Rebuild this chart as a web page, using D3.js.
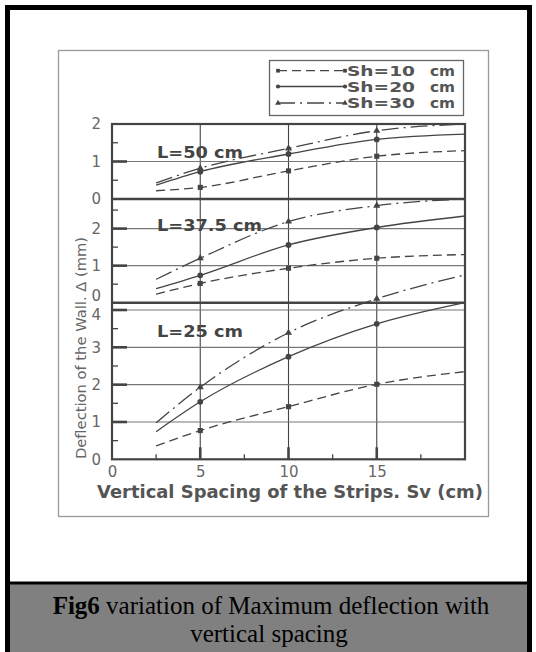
<!DOCTYPE html>
<html>
<head>
<meta charset="utf-8">
<script src="https://d3js.org/d3.v7.min.js"></script>
<style>
body { margin: 0; background: #fff; }
text { font-family: "DejaVu Sans", Verdana, sans-serif; }
</style>
</head>
<body>
<script>
// values (deflection in mm)
var sv = [2.5, 5, 10, 15, 20];
var markerSv = [5, 10, 15];
var seriesNames = ["Sh=10", "Sh=20", "Sh=30"];
var panelNames = ["L=50 cm", "L=37.5 cm", "L=25 cm"];

var L50_sh10 = [0.22, 0.31, 0.75, 1.14, 1.29];
var L50_sh20 = [0.37, 0.73, 1.20, 1.59, 1.73];
var L50_sh30 = [0.43, 0.82, 1.35, 1.82, 2.00];

var L375_sh10 = [0.23, 0.52, 0.93, 1.20, 1.30];
var L375_sh20 = [0.38, 0.74, 1.56, 2.03, 2.34];
var L375_sh30 = [0.63, 1.20, 2.19, 2.62, 2.80];

var L25_sh10 = [0.36, 0.77, 1.41, 2.01, 2.35];
var L25_sh20 = [0.74, 1.54, 2.75, 3.63, 4.20];
var L25_sh30 = [0.98, 1.93, 3.39, 4.30, 4.94];

var xTicks = [0, 5, 10, 15];
var yTicks50 = [0, 1, 2];
var yTicks375 = [0, 1, 2];
var yTicks25 = [0, 1, 2, 3, 4];

var width = 536, height = 652;
var plot = {left: 112, right: 465, top: 124, bottom: 459.3};
var ink = "#444", txt = "#555";

var svg = d3.select("body").append("svg").attr("width", width).attr("height", height);

// page frame + caption
svg.append("rect").attr("x", 0).attr("y", 0).attr("width", width).attr("height", height).attr("fill", "#fff");
svg.append("rect").attr("x", 5).attr("y", 584).attr("width", 527).attr("height", 68).attr("fill", "#808080");
svg.append("rect").attr("x", 7.5).attr("y", 7.5).attr("width", 522).attr("height", 700)
    .attr("fill", "none").attr("stroke", "#000").attr("stroke-width", 5);
svg.append("line").attr("x1", 5).attr("x2", 532).attr("y1", 583).attr("y2", 583)
    .attr("stroke", "#000").attr("stroke-width", 3);

var cap = svg.append("text").attr("x", 271).attr("y", 614).attr("text-anchor", "middle")
    .style("font-family", "'Liberation Serif', 'Times New Roman', serif").style("font-size", "25px").attr("fill", "#000");
cap.append("tspan").attr("font-weight", "bold").text("Fig6");
cap.append("tspan").text(" variation of Maximum deflection with");
svg.append("text").attr("x", 269).attr("y", 642).attr("text-anchor", "middle")
    .style("font-family", "'Liberation Serif', 'Times New Roman', serif").style("font-size", "25px").attr("fill", "#000")
    .text("vertical spacing");

// outer chart box
svg.append("rect").attr("x", 58.5).attr("y", 50.5).attr("width", 430).attr("height", 466)
    .attr("fill", "none").attr("stroke", "#999").attr("stroke-width", 1.3);

// scales
var x = d3.scaleLinear().domain([0, 20]).range([plot.left, plot.right]);

var panels = [
  {name: panelNames[0], series: [L50_sh10, L50_sh20, L50_sh30], ticks: yTicks50,
   y: d3.scaleLinear().domain([0, 2]).range([199, plot.top]), top: 2, labelY: 158},
  {name: panelNames[1], series: [L375_sh10, L375_sh20, L375_sh30], ticks: yTicks375,
   y: d3.scaleLinear().domain([0, 2]).range([302.7, 228.6]), top: 2.8, labelY: 231},
  {name: panelNames[2], series: [L25_sh10, L25_sh20, L25_sh30], ticks: yTicks25,
   y: d3.scaleLinear().domain([0, 4]).range([plot.bottom, 310]), top: 4.18, labelY: 337}
];

var dashes = ["9,5", null, "17,5,2,5"];
var symbols = [d3.symbolSquare, d3.symbolCircle, d3.symbolTriangle];
var symSizes = [26, 26, 22];

var g = svg.append("g");

// vertical grid
g.selectAll(".vgrid").data(markerSv).enter().append("line")
    .attr("x1", function(d) { return x(d); }).attr("x2", function(d) { return x(d); })
    .attr("y1", plot.top).attr("y2", plot.bottom)
    .attr("stroke", ink).attr("stroke-width", 1.1);

panels.forEach(function(p, pi) {
  var inner = p.ticks.filter(function(t) { return t > 0 && t < p.top - 0.01; });
  // horizontal grid lines
  g.selectAll(".hg" + pi).data(inner).enter().append("line")
      .attr("x1", plot.left).attr("x2", plot.right)
      .attr("y1", function(d) { return p.y(d); }).attr("y2", function(d) { return p.y(d); })
      .attr("stroke", "#777").attr("stroke-width", 1.1);
  // thick major ticks
  g.selectAll(".mt" + pi).data(inner).enter().append("line")
      .attr("x1", plot.left).attr("x2", plot.left + 15)
      .attr("y1", function(d) { return p.y(d); }).attr("y2", function(d) { return p.y(d); })
      .attr("stroke", ink).attr("stroke-width", 2.6);
  // minor ticks
  var minor = d3.range(0.5, p.top, 1);
  g.selectAll(".mn" + pi).data(minor).enter().append("line")
      .attr("x1", plot.left).attr("x2", plot.left + 6)
      .attr("y1", function(d) { return p.y(d); }).attr("y2", function(d) { return p.y(d); })
      .attr("stroke", ink).attr("stroke-width", 1.3);

  // tick labels
  var ax = g.append("g").attr("transform", "translate(" + plot.left + ",0)")
      .call(d3.axisLeft(p.y).tickValues(p.ticks).tickSize(0).tickPadding(11).tickFormat(d3.format("d")));
  ax.select(".domain").remove();
  ax.selectAll("text").style("font-size", "15px").attr("fill", "#666");
  if (pi === 1) ax.selectAll("text").filter(function(d) { return d === 0; }).attr("dy", "-0.15em");
  if (pi === 2) ax.selectAll("text").filter(function(d) { return d === 4; }).attr("dy", "0.6em");

  // curves
  p.series.forEach(function(vals, si) {
    var pts = d3.zip(sv, vals);
    var line = d3.line()
        .x(function(d) { return x(d[0]); })
        .y(function(d) { return p.y(d[1]); })
        .curve(d3.curveMonotoneX);
    g.append("path").attr("d", line(pts))
        .attr("fill", "none").attr("stroke", ink).attr("stroke-width", 1.3)
        .attr("stroke-dasharray", dashes[si]);
    g.selectAll(".m" + pi + si).data(pts.filter(function(d) { return markerSv.indexOf(d[0]) >= 0; }))
        .enter().append("path")
        .attr("d", d3.symbol().type(symbols[si]).size(symSizes[si]))
        .attr("transform", function(d) { return "translate(" + x(d[0]) + "," + p.y(d[1]) + ")"; })
        .attr("fill", ink);
  });

  // panel label
  g.append("text").attr("x", 157).attr("y", p.labelY)
      .attr("textLength", pi === 1 ? 105 : 86).attr("lengthAdjust", "spacingAndGlyphs")
      .style("font-size", "15px").style("font-weight", "bold").attr("fill", ink)
      .text(p.name);
});

// panel separators and frame
g.selectAll(".sep").data([199, 302.7]).enter().append("line")
    .attr("x1", plot.left).attr("x2", plot.right)
    .attr("y1", function(d) { return d; }).attr("y2", function(d) { return d; })
    .attr("stroke", ink).attr("stroke-width", 2.6);
g.append("rect").attr("x", plot.left).attr("y", plot.top)
    .attr("width", plot.right - plot.left).attr("height", plot.bottom - plot.top)
    .attr("fill", "none").attr("stroke", ink).attr("stroke-width", 2.2);

// bottom ticks
g.selectAll(".bt").data(markerSv).enter().append("line")
    .attr("x1", function(d) { return x(d); }).attr("x2", function(d) { return x(d); })
    .attr("y1", plot.bottom).attr("y2", plot.bottom - 12)
    .attr("stroke", ink).attr("stroke-width", 2.6);
g.selectAll(".bm").data([2.5, 7.5, 12.5, 17.5]).enter().append("line")
    .attr("x1", function(d) { return x(d); }).attr("x2", function(d) { return x(d); })
    .attr("y1", plot.bottom).attr("y2", plot.bottom - 5)
    .attr("stroke", ink).attr("stroke-width", 1.3);

var xa = g.append("g").attr("transform", "translate(0," + plot.bottom + ")")
    .call(d3.axisBottom(x).tickValues(xTicks).tickSize(0).tickPadding(7));
xa.select(".domain").remove();
xa.selectAll("text").style("font-size", "15px").attr("fill", "#666");

// axis titles
svg.append("text").attr("x", 97).attr("y", 498)
    .attr("textLength", 386).attr("lengthAdjust", "spacingAndGlyphs")
    .style("font-size", "17px").style("font-weight", "bold").attr("fill", txt)
    .text("Vertical Spacing of the Strips. Sv (cm)");
svg.append("text").attr("transform", "translate(86,348) rotate(-90)")
    .attr("text-anchor", "middle").attr("textLength", 222).attr("lengthAdjust", "spacingAndGlyphs")
    .style("font-size", "14px").attr("fill", "#666")
    .text("Deflection of the Wall. \u0394 (mm)");

// legend
var leg = svg.append("g");
leg.append("rect").attr("x", 269.5).attr("y", 60.5).attr("width", 194).attr("height", 55)
    .attr("fill", "#fff").attr("stroke", "#666").attr("stroke-width", 1.3);
var legY = [70.7, 86.5, 103];
seriesNames.forEach(function(name, si) {
  leg.append("line").attr("x1", 278).attr("x2", 345).attr("y1", legY[si]).attr("y2", legY[si])
      .attr("stroke", ink).attr("stroke-width", 1.3).attr("stroke-dasharray", dashes[si]);
  [278, 345].forEach(function(px) {
    leg.append("path").attr("d", d3.symbol().type(symbols[si]).size(14))
        .attr("transform", "translate(" + px + "," + legY[si] + ")").attr("fill", ink);
  });
  leg.append("text").attr("x", 347).attr("y", legY[si] + 5)
      .attr("textLength", 68).attr("lengthAdjust", "spacingAndGlyphs")
      .style("font-size", "13.5px").style("font-weight", "bold").attr("fill", txt).text(name);
  leg.append("text").attr("x", 430).attr("y", legY[si] + 5)
      .attr("textLength", 25).attr("lengthAdjust", "spacingAndGlyphs")
      .style("font-size", "13.5px").style("font-weight", "bold").attr("fill", txt).text("cm");
});
</script>
</body>
</html>
